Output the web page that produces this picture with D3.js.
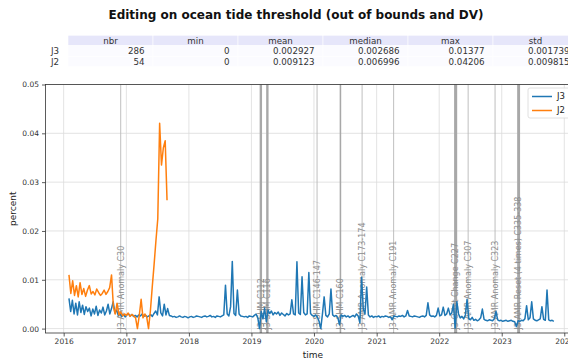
<!DOCTYPE html>
<html>
<head>
<meta charset="utf-8">
<script src="https://cdn.jsdelivr.net/npm/d3@7"></script>
<style>
  html, body { margin: 0; padding: 0; overflow: hidden; background: #fff; }
  svg { display: block; font-family: "DejaVu Sans", sans-serif; }
</style>
</head>
<body>
<svg id="chart" width="568" height="363"></svg>
<script>
// ---- statistics table ----
const statColumns = ["nbr", "min", "mean", "median", "max", "std"];
const statRows = ["J3", "J2"];
const statsJ3 = ["286", "0", "0.002927", "0.002686", "0.01377", "0.001739"];
const statsJ2 = ["54", "0", "0.009123", "0.006996", "0.04206", "0.009815"];

// ---- axes ----
const yTicks = [0, 0.01, 0.02, 0.03, 0.04, 0.05];
const yTickLabels = ["0.00", "0.01", "0.02", "0.03", "0.04", "0.05"];
const xTickYears = [2016, 2017, 2018, 2019, 2020, 2021, 2022, 2023, 2024];

// ---- series: one value per cycle ----
const j3Start = "2016-02-01";
const j3StepDays = 9.93;
const j3Values = [
  0.0062, 0.0035, 0.0058, 0.0030, 0.0052, 0.0028, 0.0055, 0.0033, 0.0048, 0.0029,
  0.0045, 0.0035, 0.0042, 0.0026, 0.0040, 0.0030, 0.0046, 0.0027, 0.0038, 0.0032,
  0.0044, 0.0028, 0.0036, 0.0050, 0.0030, 0.0041, 0.0055, 0.0032, 0.0038,
  0.0027, 0.0031, 0.0025, 0.0029, 0.0024, 0.0028, 0.0030, 0.0026, 0.0029, 0.0025,
  0.0027, 0.0024, 0.0028, 0.0026, 0.0030, 0.0025, 0.0027, 0.0024, 0.0026, 0.0029,
  0.0025, 0.0031, 0.0036, 0.0028, 0.0065, 0.0032, 0.0026, 0.0050, 0.0028, 0.0041, 0.0027,
  0.0026, 0.0024, 0.0025, 0.0023, 0.0024, 0.0026, 0.0024, 0.0023, 0.0025, 0.0024,
  0.0022, 0.0024, 0.0025, 0.0023, 0.0024, 0.0026, 0.0025, 0.0024, 0.0023, 0.0025,
  0.0026, 0.0024, 0.0025, 0.0027, 0.0024, 0.0025, 0.0023, 0.0026, 0.0025, 0.0024, 0.0026, 0.0028,
  0.0089, 0.0030, 0.0026, 0.0045, 0.01377, 0.0031, 0.0027, 0.0079, 0.0030, 0.0026,
  0.0025, 0.0024, 0.0025, 0.0023, 0.0026, 0.0025,
  0.0024, 0.0027, 0.0030, 0.0022, 0.0000, 0.0035, 0.0020, 0.0042, 0.0014, 0.0038,
  0.0031, 0.0036, 0.0028, 0.0033, 0.0030, 0.0034, 0.0027, 0.0032, 0.0029, 0.0026,
  0.0031, 0.0028, 0.0030,
  0.0059, 0.0030, 0.0028, 0.0137, 0.0032, 0.0029, 0.0106, 0.0033, 0.0028, 0.0030,
  0.0115, 0.0031, 0.0027, 0.0025, 0.0028, 0.0024, 0.0015, 0.0000, 0.0030, 0.0065,
  0.0027, 0.0024, 0.0030, 0.0081, 0.0028, 0.0025, 0.0027, 0.0023,
  0.0008, 0.0028, 0.0025, 0.0027, 0.0024, 0.0026, 0.0023, 0.0025, 0.0027, 0.0024,
  0.0030, 0.0026, 0.0012, 0.0105, 0.0040, 0.0030, 0.0085, 0.0028, 0.0024, 0.0026,
  0.0023, 0.0025, 0.0024, 0.0026, 0.0023, 0.0025, 0.0024, 0.0026, 0.0025, 0.0023,
  0.0024, 0.0018, 0.0026, 0.0025, 0.0024, 0.0026, 0.0025, 0.0027, 0.0024, 0.0026,
  0.0037, 0.0026, 0.0025, 0.0024, 0.0026, 0.0025, 0.0024, 0.0023, 0.0025, 0.0026,
  0.0024, 0.0027, 0.0053, 0.0028, 0.0025, 0.0026, 0.0024, 0.0027, 0.0042, 0.0026,
  0.0028, 0.0044, 0.0027, 0.0030, 0.0042, 0.0028, 0.0032, 0.0050, 0.0001, 0.0055,
  0.0030, 0.0022, 0.0025, 0.0020, 0.0028,
  0.0060, 0.0020, 0.0018, 0.0023, 0.0017, 0.0019, 0.0016, 0.0018, 0.0022, 0.0040,
  0.0019, 0.0017, 0.0016, 0.0018, 0.0017, 0.0016, 0.0020, 0.0035, 0.0018, 0.0016,
  0.0017, 0.0015, 0.0016, 0.0017, 0.0015, 0.0016, 0.0017, 0.0015, 0.0014,
  0.0004, 0.0016, 0.0015, 0.0017, 0.0016, 0.0020, 0.0047, 0.0018, 0.0022, 0.0055,
  0.0020, 0.0017, 0.0016, 0.0018, 0.0020, 0.0045, 0.0019, 0.0017, 0.0079, 0.0018,
  0.0016, 0.0017, 0.0015
];

const j2Start = "2016-02-01";
const j2StepDays = 10.8;
const j2Values = [
  0.0110, 0.0072, 0.0098, 0.0068, 0.0088, 0.0065, 0.0094, 0.0070, 0.0082, 0.0066,
  0.0079, 0.0088, 0.0071, 0.0076, 0.0069, 0.0081, 0.0074, 0.0068, 0.0072, 0.0079,
  0.0070, 0.0076, 0.0084, 0.0110,
  0.0045, 0.0030, 0.0052, 0.0028, 0.0034, 0.0026, 0.0030, 0.0027, 0.0032, 0.0025,
  0.0029, 0.0026, 0.0022, 0.0000, 0.0027, 0.0060, 0.0022, 0.0030, 0.0024, 0.0000,
  0.0036, 0.0085, 0.0131, 0.0180, 0.0225, 0.04206, 0.0335, 0.0370, 0.0385, 0.0263
];

// ---- mission events (start / end dates and annotation) ----
const eventStarts = ["2016-11-29", "2019-02-18", "2019-03-28", "2020-01-19", "2020-05-30",
  "2020-10-08", "2021-04-10", "2022-03-29", "2022-06-19", "2022-11-23", "2023-04-01"];
const eventEnds = ["2016-11-29", "2019-03-04", "2019-04-11", "2020-01-19", "2020-06-08",
  "2020-10-08", "2021-04-10", "2022-04-16", "2022-06-19", "2022-11-23", "2023-04-18"];
const eventLabels = ["J3 AMR Anomaly C30", "J3 SHM C112", "J3 SHM C116", "J3 SHM C146-147",
  "J3 SHM C160", "J3 AMR Anomaly C173-174", "J3 AMR Anomaly C191", "J3 Orbit Change C227",
  "J3 AMR Anomaly C307", "J3 AMR Anomaly C323", "J3 AMR Reset (4 times) C335-338"];

const seriesNames = ["J3", "J2"];
const seriesColors = ["#1f77b4", "#ff7f0e"];

// ---- layout ----
const svg = d3.select("#chart");
const plot = { left: 45.5, right: 579, top: 84.5, bottom: 333 };
const parse = d3.utcParse("%Y-%m-%d");
const DAY = 86400000;

const x = d3.scaleUtc()
  .domain([parse("2015-09-17"), parse("2024-03-27")])
  .range([plot.left, plot.right]);
const y = d3.scaleLinear()
  .domain([-0.0009, 0.05])
  .range([plot.bottom, plot.top]);

function toPoints(start, stepDays, values) {
  const t0 = parse(start).getTime();
  return values.map((v, i) => ({ date: new Date(t0 + i * stepDays * DAY), value: v }));
}
const series = [
  toPoints(j3Start, j3StepDays, j3Values),
  toPoints(j2Start, j2StepDays, j2Values)
];

// ---- title ----
svg.append("text")
  .attr("x", 296).attr("y", 19)
  .attr("text-anchor", "middle")
  .attr("font-size", 12).attr("font-weight", "bold").attr("fill", "#111")
  .text("Editing on ocean tide threshold (out of bounds and DV)");

// ---- statistics table ----
const table = svg.append("g");
const cellW = 85, cellH = 10.5, tableX = 68, tableY = 35.25;
statColumns.forEach((c, j) => {
  table.append("rect")
    .attr("x", tableX + j * cellW).attr("y", tableY)
    .attr("width", cellW).attr("height", cellH)
    .attr("fill", "#e6e6fa").attr("stroke", "#fff").attr("stroke-width", 0.6);
  table.append("text")
    .attr("x", tableX + j * cellW + cellW / 2).attr("y", tableY + cellH / 2)
    .attr("dy", "0.35em").attr("text-anchor", "middle")
    .attr("font-size", 8.7).attr("fill", "#333").text(c);
});
[statsJ3, statsJ2].forEach((row, r) => {
  const ry = tableY + (r + 1) * cellH;
  table.append("text")
    .attr("x", 59).attr("y", ry + cellH / 2).attr("dy", "0.35em")
    .attr("text-anchor", "end").attr("font-size", 8.7).attr("fill", "#333")
    .text(statRows[r]);
  row.forEach((v, j) => {
    table.append("rect")
      .attr("x", tableX + j * cellW).attr("y", ry)
      .attr("width", cellW).attr("height", cellH)
      .attr("fill", "#fbfbff").attr("stroke", "#fff").attr("stroke-width", 0.6);
    table.append("text")
      .attr("x", tableX + (j + 1) * cellW - 8.5).attr("y", ry + cellH / 2)
      .attr("dy", "0.35em").attr("text-anchor", "end")
      .attr("font-size", 8.7).attr("fill", "#333").text(v);
  });
});

// ---- grid ----
const grid = svg.append("g");
const yearDates = xTickYears.map(yr => new Date(Date.UTC(yr, 0, 1)));
grid.selectAll("line.gx").data(yearDates).join("line")
  .attr("x1", d => x(d)).attr("x2", d => x(d))
  .attr("y1", plot.top).attr("y2", plot.bottom)
  .attr("stroke", "#dcdcdc").attr("stroke-width", 0.8);
grid.selectAll("line.gy").data(yTicks).join("line")
  .attr("x1", plot.left).attr("x2", plot.right)
  .attr("y1", d => y(d)).attr("y2", d => y(d))
  .attr("stroke", "#dcdcdc").attr("stroke-width", 0.8);

// ---- event markers ----
const events = eventStarts.map((s, i) => ({
  start: parse(s), end: parse(eventEnds[i]), label: eventLabels[i]
}));
const ev = svg.append("g");
events.forEach(e => {
  const x0 = x(e.start), x1 = x(e.end);
  const w = x1 - x0;
  if (w > 0.5) {
    ev.append("rect")
      .attr("x", x0).attr("y", plot.top)
      .attr("width", w).attr("height", plot.bottom - plot.top)
      .attr("fill", "#a8a8a8");
  } else {
    ev.append("line")
      .attr("x1", x0).attr("x2", x0)
      .attr("y1", plot.top).attr("y2", plot.bottom)
      .attr("stroke", "#b8b8b8").attr("stroke-width", 0.9);
  }
  const cx = (x0 + x1) / 2;
  ev.append("text")
    .attr("transform", `translate(${cx + 2.8},${y(0) + 1}) rotate(-90)`)
    .attr("text-anchor", "start")
    .attr("font-size", 8).attr("fill", "#8c8c8c")
    .text(e.label);
});

// ---- series lines ----
const line = d3.line().x(d => x(d.date)).y(d => y(d.value));
series.forEach((pts, i) => {
  svg.append("path")
    .datum(pts)
    .attr("d", line)
    .attr("fill", "none")
    .attr("stroke", seriesColors[i])
    .attr("stroke-width", 1.5)
    .attr("stroke-linejoin", "round");
});

// ---- axes ----
const xAxis = d3.axisBottom(x).tickValues(yearDates)
  .tickFormat(d3.utcFormat("%Y")).tickSize(3.5).tickPadding(2.5);
const yAxis = d3.axisLeft(y).tickValues(yTicks)
  .tickFormat((d, i) => yTickLabels[i]).tickSize(3.5).tickPadding(3);

const gx = svg.append("g").attr("transform", `translate(0,${plot.bottom})`).call(xAxis);
const gy = svg.append("g").attr("transform", `translate(${plot.left},0)`).call(yAxis);
[gx, gy].forEach(g => {
  g.select(".domain").remove();
  g.selectAll(".tick line").attr("stroke", "#333").attr("stroke-width", 0.8);
  g.selectAll(".tick text").attr("font-size", 7.5).attr("fill", "#333")
    .attr("font-family", "DejaVu Sans, sans-serif");
});

// frame
svg.append("rect")
  .attr("x", plot.left).attr("y", plot.top)
  .attr("width", plot.right - plot.left).attr("height", plot.bottom - plot.top)
  .attr("fill", "none").attr("stroke", "#333").attr("stroke-width", 0.8);

// axis titles
svg.append("text")
  .attr("transform", `translate(16,${(plot.top + plot.bottom) / 2}) rotate(-90)`)
  .attr("text-anchor", "middle").attr("font-size", 9).attr("fill", "#222")
  .text("percent");
svg.append("text")
  .attr("x", 313).attr("y", 358)
  .attr("text-anchor", "middle").attr("font-size", 9).attr("fill", "#222")
  .text("time");

// ---- legend ----
const lg = svg.append("g").attr("transform", "translate(528,88)");
lg.append("rect")
  .attr("width", 46).attr("height", 30).attr("rx", 2)
  .attr("fill", "#fff").attr("fill-opacity", 0.85)
  .attr("stroke", "#d8d8d8").attr("stroke-width", 0.8);
seriesNames.forEach((n, i) => {
  const ly = 8.5 + i * 14;
  lg.append("line")
    .attr("x1", 4).attr("x2", 24).attr("y1", ly).attr("y2", ly)
    .attr("stroke", seriesColors[i]).attr("stroke-width", 1.5);
  lg.append("text")
    .attr("x", 29).attr("y", ly).attr("dy", "0.35em")
    .attr("font-size", 8.5).attr("fill", "#222").text(n);
});
</script>
</body>
</html>
